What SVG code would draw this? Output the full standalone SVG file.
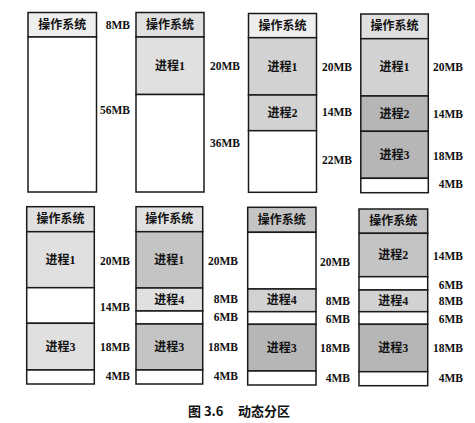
<svg xmlns="http://www.w3.org/2000/svg" width="475" height="423" viewBox="0 0 475 423">
<style>
.b{stroke:#1a1a1a;stroke-width:1.5}
.w{fill:#ffffff}
.g1{fill:#eeeeee}
.g2{fill:#e0e0e0}
.g3{fill:#d2d2d2}
.g4{fill:#c4c4c4}
.g5{fill:#b6b6b6}
.t{font-family:"Liberation Serif","Noto Sans CJK SC",serif;font-weight:bold;font-size:12px;fill:#111;text-anchor:middle;dominant-baseline:central}
.l{font-family:"Liberation Serif",serif;font-weight:bold;font-size:11.5px;fill:#111;text-anchor:end;dominant-baseline:central}
.c{font-family:"Noto Sans CJK SC",sans-serif;font-weight:bold;font-size:13px;fill:#111}
</style>
<rect width="475" height="423" fill="#ffffff"/>

<g id="a1">
<rect class="b g1" x="28" y="12.5" width="68.5" height="24.5"/><text class="t" x="62.2" y="25">操作系统</text>
<rect class="b w" x="28" y="37" width="68.5" height="155"/>
<text class="l" x="130" y="25">8MB</text><text class="l" x="130" y="110">56MB</text>
</g>

<g id="a2">
<rect class="b g2" x="136" y="12.5" width="68" height="24.5"/><text class="t" x="170" y="25">操作系统</text>
<rect class="b g2" x="136" y="37" width="68" height="57.5"/><text class="t" x="170" y="66">进程1</text>
<rect class="b w" x="136" y="94.5" width="68" height="97.5"/>
<text class="l" x="240" y="66">20MB</text><text class="l" x="240" y="143">36MB</text>
</g>

<g id="a3">
<rect class="b g1" x="248.5" y="13.5" width="68" height="24.2"/><text class="t" x="282.5" y="25.6">操作系统</text>
<rect class="b g3" x="248.5" y="37.7" width="68" height="57.3"/><text class="t" x="282.5" y="66.5">进程1</text>
<rect class="b g3" x="248.5" y="95" width="68" height="35.7"/><text class="t" x="282.5" y="112.5">进程2</text>
<rect class="b w" x="248.5" y="130.7" width="68" height="61.6"/>
<text class="l" x="352" y="67">20MB</text><text class="l" x="352" y="112">14MB</text><text class="l" x="352" y="160">22MB</text>
</g>

<g id="a4">
<rect class="b g2" x="360.8" y="14" width="67.5" height="24.7"/><text class="t" x="394.5" y="26.3">操作系统</text>
<rect class="b g3" x="360.8" y="38.7" width="67.5" height="57.3"/><text class="t" x="394.5" y="67">进程1</text>
<rect class="b g5" x="360.8" y="96" width="67.5" height="35.3"/><text class="t" x="394.5" y="113.5">进程2</text>
<rect class="b g5" x="360.8" y="131.3" width="67.5" height="47"/><text class="t" x="394.5" y="155">进程3</text>
<rect class="b w" x="360.8" y="178.3" width="67.5" height="14.4"/>
<text class="l" x="463" y="67">20MB</text><text class="l" x="463" y="114">14MB</text><text class="l" x="463" y="156">18MB</text><text class="l" x="463" y="183.5">4MB</text>
</g>

<g id="b1">
<rect class="b g2" x="26.7" y="206.7" width="67.6" height="25"/><text class="t" x="60.5" y="219.2">操作系统</text>
<rect class="b g2" x="26.7" y="231.7" width="67.6" height="56"/><text class="t" x="60.5" y="260">进程1</text>
<rect class="b w" x="26.7" y="287.7" width="67.6" height="35.6"/>
<rect class="b g2" x="26.7" y="323.3" width="67.6" height="46.7"/><text class="t" x="60.5" y="347">进程3</text>
<rect class="b w" x="26.7" y="370" width="67.6" height="14"/>
<text class="l" x="130" y="260.7">20MB</text><text class="l" x="130" y="307.3">14MB</text><text class="l" x="130" y="346.7">18MB</text><text class="l" x="130" y="375.7">4MB</text>
</g>

<g id="b2">
<rect class="b g2" x="136" y="206.7" width="66.7" height="25"/><text class="t" x="169.3" y="219.2">操作系统</text>
<rect class="b g4" x="136" y="231.7" width="66.7" height="56.3"/><text class="t" x="169.3" y="260">进程1</text>
<rect class="b g2" x="136" y="288" width="66.7" height="23"/><text class="t" x="169.3" y="299.5">进程4</text>
<rect class="b w" x="136" y="311" width="66.7" height="13"/>
<rect class="b g4" x="136" y="324" width="66.7" height="46"/><text class="t" x="169.3" y="347">进程3</text>
<rect class="b w" x="136" y="370" width="66.7" height="14"/>
<text class="l" x="238" y="260.7">20MB</text><text class="l" x="238" y="299.3">8MB</text><text class="l" x="238" y="317.3">6MB</text><text class="l" x="238" y="346.7">18MB</text><text class="l" x="238" y="375.7">4MB</text>
</g>

<g id="b3">
<rect class="b g4" x="247.7" y="207.3" width="68.3" height="25"/><text class="t" x="281.8" y="219.8">操作系统</text>
<rect class="b w" x="247.7" y="232.3" width="68.3" height="56.7"/>
<rect class="b g3" x="247.7" y="289" width="68.3" height="22.7"/><text class="t" x="281.8" y="300.3">进程4</text>
<rect class="b w" x="247.7" y="311.7" width="68.3" height="12.6"/>
<rect class="b g5" x="247.7" y="324.3" width="68.3" height="46.7"/><text class="t" x="281.8" y="347.7">进程3</text>
<rect class="b w" x="247.7" y="371" width="68.3" height="14"/>
<text class="l" x="350" y="261.7">20MB</text><text class="l" x="350" y="300.7">8MB</text><text class="l" x="350" y="319.3">6MB</text><text class="l" x="350" y="348.3">18MB</text><text class="l" x="350" y="378.3">4MB</text>
</g>

<g id="b4">
<rect class="b g4" x="359" y="209" width="68.7" height="24.3"/><text class="t" x="393.3" y="221.2">操作系统</text>
<rect class="b g4" x="359" y="233.3" width="68.7" height="43.4"/><text class="t" x="393.3" y="255">进程2</text>
<rect class="b w" x="359" y="276.7" width="68.7" height="13.3"/>
<rect class="b g3" x="359" y="290" width="68.7" height="21.7"/><text class="t" x="393.3" y="300.8">进程4</text>
<rect class="b w" x="359" y="311.7" width="68.7" height="12.6"/>
<rect class="b g5" x="359" y="324.3" width="68.7" height="47.4"/><text class="t" x="393.3" y="348">进程3</text>
<rect class="b w" x="359" y="371.7" width="68.7" height="14"/>
<text class="l" x="463" y="256">14MB</text><text class="l" x="463" y="285">6MB</text><text class="l" x="463" y="300.7">8MB</text><text class="l" x="463" y="319.3">6MB</text><text class="l" x="463" y="348.3">18MB</text><text class="l" x="463" y="378.3">4MB</text>
</g>

<g id="connectors"></g>

<text class="c" x="188" y="416">图 3.6</text>
<text class="c" x="238" y="416">动态分区</text>
</svg>
